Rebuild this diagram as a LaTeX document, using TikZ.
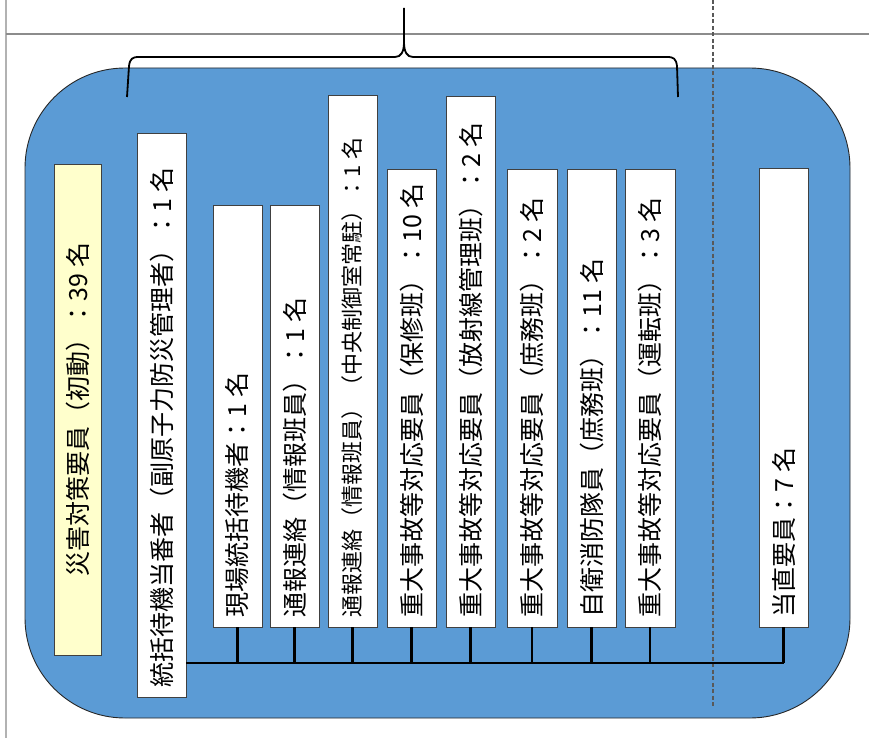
\documentclass[tikz,border=0pt]{standalone}
\usepackage{fontspec}
\newfontfamily\jp{Noto Sans CJK JP}
\definecolor{blueF}{HTML}{5B9BD5}
\definecolor{yelF}{HTML}{FFFFCC}
\tikzset{
  membox/.style={draw=black!75, fill=white, line width=0.9pt, rotate=90,
    font=\jp\fontsize{25}{27}\selectfont, inner xsep=10pt, inner ysep=0pt},
  busline/.style={line width=2.2pt, black},
  bracepath/.style={line width=1.8pt, black},
  frameline/.style={line width=1.5pt, black!45},
}
\newcommand\placebox[8][white]{%
  \pgfmathsetmacro\pbXc{(#3+#4)/2}%
  \pgfmathsetmacro\pbYc{(#5+#6)/2}%
  \pgfmathsetmacro\pbL{#6-#5}%
  \pgfmathsetmacro\pbW{#4-#3}%
  \pgfmathsetmacro\pbT{#6-#5-20}%
  \node[membox, fill=#1, minimum width=\pbL pt, minimum height=\pbW pt]
    (#2) at (\pbXc,\pbYc) {\makebox[\pbT pt][#7]{#8}};%
}
\begin{document}
\begin{tikzpicture}[x=1pt,y=-1pt]
\useasboundingbox (0,0) rectangle (869,738);
% frame lines
\draw[frameline, black!30] (6,0) -- (6,738);
\draw[frameline] (6,34) -- (869,34);
% main rounded area
\draw[fill=blueF, draw=black!85, line width=0.9pt, rounded corners=100pt]
  (25,68) rectangle (850,718);
% dashed separator
\draw[black!65, line width=1.2pt, dash pattern=on 4pt off 2.5pt] (713,0) -- (713,708);
% brace
\draw[bracepath] (127,97) -- (129,66) .. controls (130,59) and (132,57) .. (139,57)
  -- (395,57) .. controls (401,57) and (404,52) .. (404,42) -- (404,8);
\draw[bracepath] (678,97) -- (677,66) .. controls (676,59) and (674,57) .. (667,57)
  -- (413,57) .. controls (407,57) and (404,52) .. (404,42);
% boxes
\placebox[yelF]{y0}{54}{101}{164}{655}{c}{災害対策要員（初動）：39 名}
\placebox{b1}{137}{186}{133}{697}{l}{統括待機当番者（副原子力防災管理者）：1 名}
\placebox{b2}{213}{262}{205}{627}{l}{現場統括待機者：1 名}
\placebox{b3}{270}{319}{205}{627}{l}{通報連絡（情報班員）：1 名}
\placebox{b4}{328}{377}{95}{627}{l}{\fontsize{22}{24}\selectfont 通報連絡（情報班員）（中央制御室常駐）：1 名}
\placebox{b5}{387}{436}{169}{627}{l}{重大事故等対応要員（保修班）：10 名}
\placebox{b6}{446}{495}{96}{627}{l}{重大事故等対応要員（放射線管理班）：2 名}
\placebox{b7}{507}{557}{169}{627}{l}{重大事故等対応要員（庶務班）：2 名}
\placebox{b8}{567}{616}{169}{627}{l}{自衛消防隊員（庶務班）：11 名}
\placebox{b9}{625}{675}{169}{627}{l}{重大事故等対応要員（運転班）：3 名}
\placebox{b10}{759}{808}{168}{627}{l}{当直要員：7 名}
% connectors
\coordinate (busy) at (0,663);
\draw[busline] (b1.south |- busy) -- (b10.west |- busy);
\foreach \n in {b2,b3,b4,b5,b6,b7,b8,b9,b10}
  \draw[busline] (\n.west) -- (\n.west |- busy);
\end{tikzpicture}
\end{document}
